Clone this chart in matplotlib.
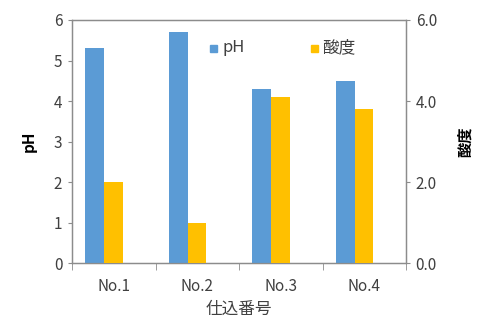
import matplotlib

matplotlib.use("Agg")
import matplotlib.pyplot as plt
import matplotlib.patches as patches
import numpy as np

plt.rcParams["font.family"] = ["Noto Sans CJK JP", "DejaVu Sans"]

categories = ["No.1", "No.2", "No.3", "No.4"]
ph = [5.3, 5.7, 4.3, 4.5]
acidity = [2.0, 1.0, 4.1, 3.8]

BLUE, YELLOW, GRID = "#5B9BD5", "#FFC000", "#8C8C8C"
TXT = "#404040"

fig = plt.figure(figsize=(4.81, 3.2), dpi=100)
ax = fig.add_axes([0.1497, 0.178, 0.6944, 0.7595])
ax2 = ax.twinx()

x = np.arange(len(categories))
w = 0.225
ax.bar(x - 0.34, ph, width=w, align="edge", color=BLUE, zorder=3)
ax2.bar(x - 0.115, acidity, width=w, align="edge", color=YELLOW, zorder=3)

ax.set_xlim(-0.5, len(categories) - 0.5)
ax.set_ylim(0, 6)
ax2.set_ylim(0, 6)
ax.set_yticks(range(0, 7))
ax2.set_yticks([0, 2, 4, 6])
ax2.set_yticklabels([f"{v:.1f}" for v in [0, 2, 4, 6]])

ax.set_xticks(x)
ax.set_xticklabels(categories)
ax.set_xticks(np.arange(-0.5, len(categories)), minor=True)
ax.tick_params(axis="x", which="major", length=0, pad=11, labelsize=11, labelcolor=TXT)
ax.tick_params(axis="x", which="minor", length=5, color=GRID, direction="out")
ax.tick_params(axis="y", length=3, color=GRID, labelsize=11, labelcolor=TXT, pad=4)
ax2.tick_params(axis="y", length=3, color=GRID, labelsize=11, labelcolor=TXT, pad=4)

for a in (ax, ax2):
    for s in a.spines.values():
        s.set_color(GRID)
        s.set_linewidth(0.9)

ax.set_ylabel("pH", fontsize=11, fontweight="bold", color="black", labelpad=12)
ax2.set_ylabel("酸度", fontsize=11, fontweight="bold", color="black", rotation=90, labelpad=14)
ax.set_xlabel("仕込番号", fontsize=12, color=TXT, labelpad=4)

# legend drawn inside the plot area
fig.patches.append(patches.Rectangle((210 / 481, 1 - 51.5 / 320), 7 / 481, 7 / 320,
                                     transform=fig.transFigure, color=BLUE))
fig.text(222 / 481, 1 - 48 / 320, "pH", fontsize=12, color=TXT, va="center")
fig.patches.append(patches.Rectangle((311 / 481, 1 - 51.5 / 320), 7 / 481, 7 / 320,
                                     transform=fig.transFigure, color=YELLOW))
fig.text(322 / 481, 1 - 48 / 320, "酸度", fontsize=12, color=TXT, va="center")

fig.savefig("out.png", dpi=100)
